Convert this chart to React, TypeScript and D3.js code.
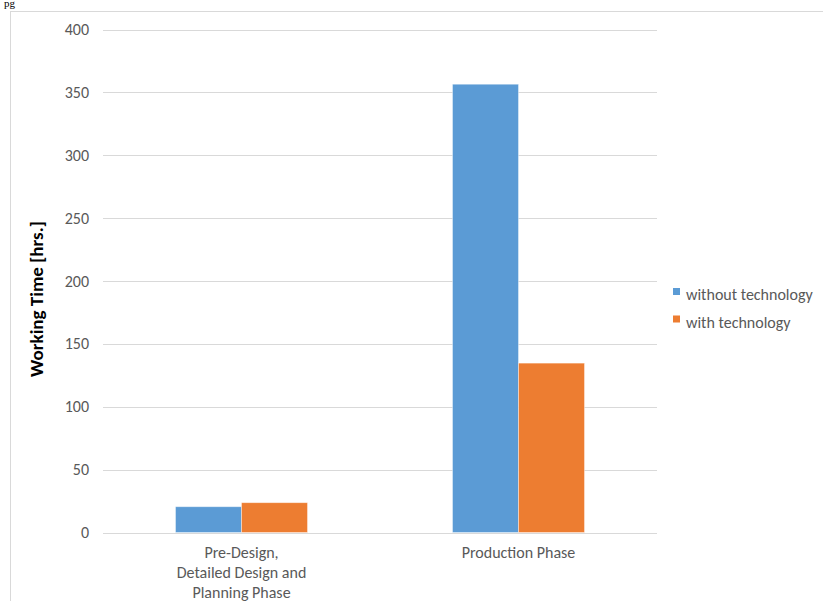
import React from "react";
import * as d3 from "d3";

const categories: string[][] = [
  ["Pre-Design,", "Detailed Design and", "Planning Phase"],
  ["Production Phase"],
];
const seriesNames = ["without technology", "with technology"];
const withoutTech = [20.5, 356.5];
const withTech = [23.7, 134.7];
const yTicks = [0, 50, 100, 150, 200, 250, 300, 350, 400];
const colors = ["#5B9BD5", "#ED7D31"];

const W = 823;
const H = 601;
const FONT = "Calibri, Carlito, 'Open Sans', 'Noto Sans', sans-serif";

export default function App() {
  const x0 = 103, x1 = 657, yTop = 29.5, yBot = 532.5;
  const y = d3.scaleLinear().domain([0, 400]).range([yBot, yTop]);
  const xBand = d3.scaleBand<number>().domain([0, 1]).range([x0, x1]).paddingInner(0).paddingOuter(0);
  const groupW = 132;
  const xInner = d3.scaleBand<number>().domain([0, 1]).range([0, groupW]);
  const series = [withoutTech, withTech];

  return (
    <svg width={W} height={H} style={{ position: "absolute", left: 0, top: 0, background: "#fff" }}>
      <text x={4} y={7} fontFamily="'Liberation Serif', 'Times New Roman', serif" fontSize={11} fill="#000">pg</text>
      <rect x={10.5} y={11.5} width={W + 10} height={H + 10} fill="#fff" stroke="#d9d9d9" strokeWidth={1} />
      {yTicks.map((t) => (
        <g key={t}>
          <line x1={x0} x2={x1} y1={Math.round(y(t)) + 0.5} y2={Math.round(y(t)) + 0.5} stroke="#d9d9d9" strokeWidth={1} />
          <text x={89} y={y(t) + 5.5} textAnchor="end" fontFamily={FONT} fontSize={16} fill="#595959">{t}</text>
        </g>
      ))}
      {categories.map((c, i) => {
        const cx = (xBand(i) as number) + xBand.bandwidth() / 2;
        const gx = cx - groupW / 2;
        return (
          <g key={i}>
            {series.map((s, j) => (
              <rect key={j} x={gx + (xInner(j) as number)} y={y(s[i])} width={xInner.bandwidth()} height={yBot - y(s[i])}
                fill={colors[j]} stroke="#ffffff" strokeOpacity={0.5} strokeWidth={0.8} />
            ))}
            {c.map((line, k) => (
              <text key={k} x={cx} y={557.5 + k * 20} textAnchor="middle" fontFamily={FONT} fontSize={16} fill="#595959">{line}</text>
            ))}
          </g>
        );
      })}
      <text transform={`translate(43, ${(yTop + yBot) / 2 + 18}) rotate(-90)`} textAnchor="middle" fontFamily={FONT} fontSize={19} fontWeight="bold" fill="#000">Working Time [hrs.]</text>
      {seriesNames.map((n, j) => (
        <g key={n}>
          <rect x={673} y={288 + j * 27.5} width={7} height={7} fill={colors[j]} />
          <text x={686} y={300 + j * 27.5} fontFamily={FONT} fontSize={16} fill="#595959">{n}</text>
        </g>
      ))}
    </svg>
  );
}
